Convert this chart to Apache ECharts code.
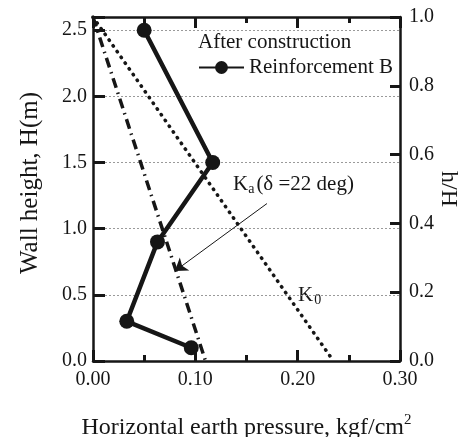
<!DOCTYPE html>
<html>
<head>
<meta charset="utf-8">
<script src="https://cdn.jsdelivr.net/npm/echarts@6/dist/echarts.min.js"></script>
<style>
html,body{margin:0;padding:0;background:#fff;}
#chart{width:473px;height:437px;}
</style>
</head>
<body>
<div id="chart"></div>
<script>
// measured points, x = pressure (kgf/cm2), y = wall height H (m)
var reinfX = [0.050, 0.117, 0.063, 0.033, 0.096];
var reinfH = [2.5, 1.5, 0.9, 0.3, 0.1];
var k0X = [0.0, 0.235];
var k0H = [2.6, 0.0];
var kaX = [0.0, 0.110];
var kaH = [2.6, 0.0];
var arrowFrom = [0.170, 1.19];
var arrowTo = [0.080, 0.68];

var font = 'Liberation Serif, Times New Roman, serif';
var ink = '#161616';

function pairs(xs, ys){
    var out = [];
    for(var i=0;i<xs.length;i++){
        out.push([xs[i], ys[i]]);
    }
    return out;
}

var chart = echarts.init(document.getElementById('chart'));

var xAxisBase = {
    type:'value',
    min:0,
    max:0.3,
    interval:0.1,
    axisLine:{show:true, onZero:false, lineStyle:{color:ink, width:2.5}},
    axisTick:{show:true, inside:true, length:11, lineStyle:{color:ink, width:3}},
    minorTick:{show:true, splitNumber:2, length:6, lineStyle:{color:ink, width:3}},
    splitLine:{show:false}
};

chart.setOption({
    animation:false,
    grid:{left:93, right:73, top:17, bottom:76, containLabel:false, outerBoundsMode:'none'},
    legend:{
        left:198,
        top:57,
        padding:0,
        itemWidth:45,
        itemHeight:16,
        itemGap:4,
        data:['Reinforcement B'],
        textStyle:{fontFamily:font, fontSize:21, color:ink}
    },
    xAxis:[
        echarts.util.merge({
            position:'bottom',
            name:'Horizontal earth pressure, kgf/cm{sup|2}',
            nameLocation:'middle',
            nameGap:52,
            nameTextStyle:{fontFamily:font, fontSize:24, color:ink,
                rich:{sup:{fontFamily:font, fontSize:15, color:ink, verticalAlign:'top', padding:[0,0,14,0]}}},
            axisLabel:{fontFamily:font, fontSize:20, color:ink, margin:9,
                formatter:function(v){ return v.toFixed(2); }},
            splitLine:{show:true, lineStyle:{color:'#9a9a9a', type:[2,2], width:1}}
        }, xAxisBase, true),
        echarts.util.merge({
            position:'top',
            axisLabel:{show:false}
        }, xAxisBase, true)
    ],
    yAxis:[
        {
            type:'value',
            position:'left',
            min:0,
            max:2.6,
            interval:0.5,
            name:'Wall height, H(m)',
            nameLocation:'middle',
            nameRotate:90,
            nameGap:50,
            nameTextStyle:{fontFamily:font, fontSize:25, color:ink, padding:[0,0,0,12]},
            axisLine:{show:true, onZero:false, lineStyle:{color:ink, width:2.5}},
            axisTick:{show:true, inside:true, length:12, lineStyle:{color:ink, width:3}},
            axisLabel:{fontFamily:font, fontSize:20, color:ink, margin:6,
                formatter:function(v){ return v > 2.55 ? '' : v.toFixed(1); }},
            splitLine:{show:true, lineStyle:{color:'#9a9a9a', type:[2,2], width:1}}
        },
        {
            type:'value',
            position:'right',
            min:0,
            max:1,
            interval:0.2,
            name:'h/H',
            nameLocation:'middle',
            nameRotate:-90,
            nameGap:36,
            nameMoveOverlap:false,
            nameTextStyle:{fontFamily:font, fontSize:24, color:ink},
            axisLine:{show:true, onZero:false, lineStyle:{color:ink, width:2.5}},
            axisTick:{show:true, inside:true, length:10, lineStyle:{color:ink, width:3}},
            axisLabel:{fontFamily:font, fontSize:20, color:ink, margin:9,
                formatter:function(v){ return v.toFixed(1); }},
            splitLine:{show:false}
        }
    ],
    graphic:[
        {type:'text', left:198, top:32,
            style:{text:'After construction', font:'21px ' + font, fill:ink}},
        {type:'text', left:233, top:174,
            style:{text:'K{s|a}(δ =22 deg)', font:'21px ' + font, fill:ink,
                rich:{s:{fontFamily:font, fontSize:14, fill:ink, padding:[9,2,0,0]}}}},
        {type:'text', left:298, top:285,
            style:{text:'K{s|0}', font:'21px ' + font, fill:ink,
                rich:{s:{fontFamily:font, fontSize:14, fill:ink, padding:[9,0,0,1]}}}}
    ],
    series:[
        {
            name:'K0',
            type:'line',
            xAxisIndex:0,
            yAxisIndex:0,
            data:pairs(k0X, k0H),
            symbol:'none',
            lineStyle:{color:ink, width:3.5, type:[0.5,6.5], cap:'round'},
            markLine:{
                silent:true,
                symbol:['none','arrow'],
                symbolSize:12,
                label:{show:false},
                lineStyle:{color:ink, width:1, type:'solid'},
                data:[[{coord:arrowFrom}, {coord:arrowTo}]]
            }
        },
        {
            name:'Ka',
            type:'line',
            xAxisIndex:0,
            yAxisIndex:0,
            data:pairs(kaX, kaH),
            symbol:'none',
            lineStyle:{color:ink, width:3.5, type:[10,5,1.5,5]}
        },
        {
            name:'Reinforcement B',
            type:'line',
            xAxisIndex:0,
            yAxisIndex:0,
            data:pairs(reinfX, reinfH),
            symbol:'circle',
            symbolSize:15,
            itemStyle:{color:ink},
            lineStyle:{color:ink, width:4.5}
        }
    ]
});
</script>
</body>
</html>
